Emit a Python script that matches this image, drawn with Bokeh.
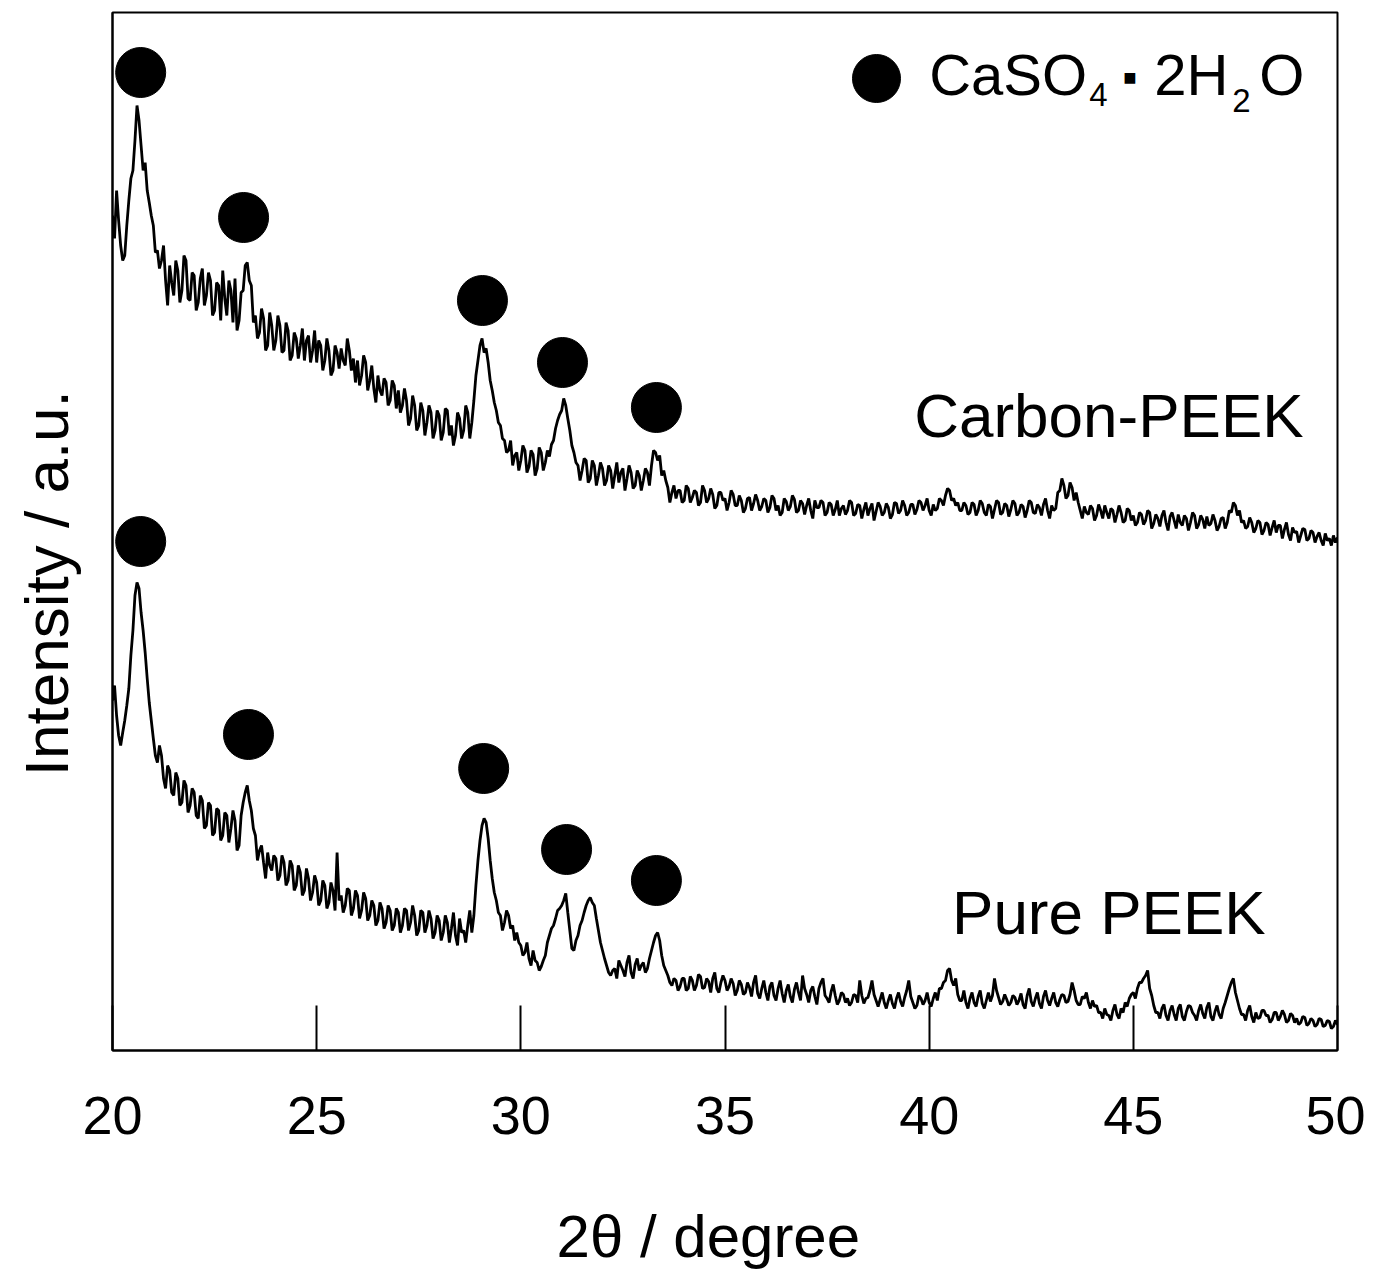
from bokeh.plotting import figure
from bokeh.models import Range1d, FixedTicker
from bokeh.core.properties import value
from bokeh.embed import file_html
from bokeh.resources import INLINE

# 2theta grid, 0.05 degree steps from 20.00 to 50.00
two_theta = [round(20 + 0.05 * i, 2) for i in range(601)]

carbon_peek = [
    835, 812, 860, 830, 805, 790, 795, 825, 850, 872, 880, 910, 945, 930, 905, 880, 888, 860, 848, 835,
    825, 798, 800, 782, 790, 805, 770, 745, 785, 768, 755, 790, 780, 748, 760, 795, 790, 752, 750, 778,
    775, 740, 748, 772, 782, 745, 755, 778, 770, 735, 740, 768, 765, 730, 780, 752, 735, 770, 760, 728,
    772, 720, 730, 758, 760, 785, 788, 770, 765, 728, 735, 712, 718, 742, 732, 700, 705, 738, 725, 700,
    710, 735, 725, 698, 700, 728, 720, 690, 695, 718, 712, 692, 705, 722, 690, 710, 715, 688, 700, 720,
    688, 710, 705, 680, 690, 712, 700, 675, 680, 705, 698, 682, 702, 690, 685, 712, 700, 680, 692, 668,
    690, 665, 675, 695, 688, 660, 670, 685, 662, 648, 675, 660, 655, 672, 668, 645, 650, 670, 665, 642,
    660, 638, 645, 662, 650, 625, 632, 655, 645, 620, 625, 648, 640, 615, 628, 645, 638, 612, 620, 640,
    635, 610, 618, 642, 640, 615, 625, 605, 615, 638, 632, 612, 620, 645, 638, 612, 628, 650, 675, 690,
    705, 712, 698, 702, 688, 670, 660, 648, 640, 628, 625, 612, 610, 598, 600, 610, 585, 595, 598, 580,
    590, 605, 600, 578, 584, 600, 596, 575, 582, 603, 598, 580, 588, 600, 594, 606, 610, 622, 630, 636,
    640, 652, 645, 632, 620, 605, 598, 588, 585, 570, 580, 592, 590, 568, 572, 590, 585, 565, 575, 588,
    582, 565, 570, 585, 580, 562, 575, 588, 568, 578, 582, 560, 572, 585, 578, 562, 565, 580, 575, 560,
    570, 582, 578, 565, 585, 600, 598, 590, 595, 575, 580, 570, 563, 548, 558, 565, 552, 560, 560, 548,
    550, 565, 562, 548, 553, 560, 558, 545, 548, 565, 560, 548, 552, 562, 556, 542, 545, 558, 558, 550,
    552, 540, 548, 560, 556, 545, 545, 555, 550, 538, 542, 552, 553, 540, 547, 556, 550, 540, 544, 552,
    550, 538, 543, 555, 552, 540, 545, 535, 538, 552, 549, 540, 544, 555, 551, 538, 540, 550, 547, 536,
    545, 552, 540, 532, 550, 543, 543, 550, 548, 535, 538, 548, 546, 535, 541, 550, 535, 542, 545, 536,
    540, 550, 548, 535, 537, 546, 545, 532, 541, 548, 535, 542, 547, 530, 539, 548, 544, 535, 538, 547,
    543, 532, 536, 548, 547, 537, 540, 550, 545, 535, 538, 546, 546, 536, 541, 550, 548, 540, 545, 552,
    540, 535, 546, 540, 542, 552, 550, 545, 555, 562, 560, 550, 552, 545, 548, 540, 540, 548, 545, 536,
    538, 548, 546, 535, 540, 550, 547, 538, 535, 546, 544, 532, 541, 550, 548, 536, 538, 547, 545, 534,
    541, 550, 547, 535, 538, 546, 544, 533, 540, 550, 548, 538, 537, 546, 543, 535, 546, 552, 540, 532,
    545, 540, 542, 558, 560, 572, 565, 552, 555, 568, 563, 550, 558, 548, 540, 532, 544, 538, 536, 545,
    542, 530, 535, 546, 540, 532, 545, 538, 532, 542, 540, 528, 536, 545, 538, 528, 530, 542, 540, 530,
    535, 525, 528, 538, 536, 526, 530, 540, 538, 522, 527, 536, 532, 524, 535, 540, 528, 520, 534, 538,
    530, 522, 536, 528, 525, 535, 532, 520, 528, 538, 535, 522, 526, 535, 531, 522, 534, 525, 527, 536,
    530, 520, 524, 532, 533, 522, 528, 540, 538, 548, 545, 535, 540, 528, 530, 522, 524, 533, 528, 518,
    522, 530, 528, 516, 520, 528, 526, 515, 523, 530, 518, 525, 525, 512, 521, 528, 516, 510, 523, 518,
    519, 508, 515, 522, 521, 510, 512, 520, 518, 508, 514, 518, 510, 505, 517, 510, 512, 505, 515, 508,
    513,
]

pure_peek = [
    350, 365, 335, 315, 305, 318, 330, 345, 362, 395, 420, 455, 468, 462, 438, 420, 398, 372, 348, 330,
    312, 295, 288, 305, 295, 272, 262, 285, 280, 258, 255, 278, 272, 245, 248, 270, 265, 238, 245, 262,
    258, 235, 232, 255, 250, 222, 225, 248, 245, 215, 218, 242, 240, 210, 215, 238, 235, 208, 222, 240,
    230, 200, 205, 235, 248, 258, 265, 250, 240, 222, 215, 190, 200, 205, 188, 172, 198, 185, 180, 195,
    192, 170, 175, 195, 188, 165, 170, 190, 185, 160, 165, 185, 178, 155, 160, 182, 172, 150, 158, 175,
    168, 145, 150, 170, 165, 142, 148, 168, 160, 140, 198, 150, 155, 138, 145, 162, 160, 135, 142, 160,
    155, 132, 140, 158, 152, 130, 135, 150, 145, 125, 130, 148, 142, 122, 128, 145, 140, 120, 125, 142,
    138, 118, 125, 142, 140, 120, 128, 145, 135, 115, 120, 140, 138, 118, 125, 140, 132, 112, 118, 135,
    130, 110, 118, 135, 128, 108, 122, 138, 115, 105, 132, 118, 120, 108, 125, 140, 118, 135, 165, 190,
    210, 225, 232, 228, 212, 190, 172, 158, 150, 138, 135, 120, 128, 140, 135, 122, 125, 110, 118, 108,
    105, 95, 98, 108, 92, 85, 100, 90, 88, 80, 84, 90, 95, 108, 115, 122, 125, 132, 140, 142,
    145, 150, 157, 138, 120, 102, 100, 110, 115, 125, 130, 138, 145, 150, 153, 148, 145, 132, 120, 108,
    100, 92, 85, 78, 75, 80, 82, 72, 90, 85, 80, 74, 88, 95, 78, 72, 86, 92, 80, 85,
    88, 78, 82, 92, 100, 108, 115, 118, 110, 95, 85, 80, 75, 68, 65, 72, 70, 60, 64, 72,
    72, 60, 62, 74, 70, 60, 65, 76, 74, 62, 63, 72, 69, 58, 72, 78, 62, 58, 68, 75,
    70, 60, 64, 72, 67, 55, 60, 70, 66, 56, 58, 68, 63, 54, 68, 75, 57, 52, 62, 70,
    58, 50, 64, 68, 55, 50, 62, 70, 57, 48, 60, 66, 54, 48, 61, 68, 58, 50, 75, 62,
    56, 48, 60, 64, 54, 46, 62, 68, 72, 55, 52, 48, 59, 66, 55, 46, 50, 58, 56, 48,
    52, 45, 48, 56, 55, 48, 70, 55, 47, 52, 53, 60, 70, 56, 50, 44, 51, 58, 48, 42,
    50, 56, 47, 42, 52, 58, 49, 44, 53, 60, 70, 54, 48, 42, 45, 55, 52, 46, 50, 58,
    48, 44, 52, 58, 50, 62, 62, 68, 70, 80, 82, 70, 65, 72, 56, 50, 50, 60, 48, 42,
    52, 58, 48, 44, 54, 60, 47, 42, 50, 58, 49, 55, 72, 60, 53, 46, 49, 56, 51, 45,
    48, 55, 53, 46, 50, 57, 46, 42, 55, 62, 49, 44, 52, 58, 47, 42, 54, 60, 50, 45,
    52, 58, 48, 44, 51, 56, 55, 48, 49, 56, 68, 60, 50, 46, 46, 54, 52, 58, 48, 42,
    50, 44, 45, 38, 38, 32, 42, 36, 35, 30, 40, 46, 36, 32, 42, 38, 48, 44, 52, 56,
    58, 52, 62, 68, 68, 72, 75, 80, 62, 55, 45, 38, 38, 32, 42, 46, 35, 30, 40, 45,
    36, 30, 42, 46, 34, 30, 39, 45, 44, 38, 35, 30, 40, 46, 37, 32, 43, 48, 34, 30,
    39, 45, 36, 32, 42, 48, 55, 62, 68, 72, 58, 50, 42, 36, 36, 30, 40, 45, 34, 28,
    38, 32, 33, 40, 40, 35, 35, 28, 31, 38, 38, 30, 34, 40, 36, 28, 30, 37, 35, 28,
    32, 26, 28, 34, 33, 25, 27, 32, 30, 24, 26, 32, 31, 24, 25, 30, 29, 22, 24, 30,
    26,
]

# CaSO4.2H2O peak markers
carbon_marker_x = [20.69, 23.21, 29.06, 31.02, 33.32]
carbon_marker_y = [978, 833, 750, 688, 643]
pure_marker_x = [20.69, 23.33, 29.09, 31.12, 33.32]
pure_marker_y = [509, 316, 282, 201, 170]
legend_marker_x = [38.71]
legend_marker_y = [972]

x_ticks = [20, 25, 30, 35, 40, 45, 50]

FONT = "Liberation Sans"
NB = "\u00a0"

p = figure(width=1365, height=1274, output_backend="svg", toolbar_location=None,
           x_range=Range1d(20, 50), y_range=Range1d(0, 1038),
           min_border_left=112, min_border_right=28, min_border_top=12, min_border_bottom=224)
p.grid.visible = False
p.outline_line_color = "black"
p.outline_line_width = 2
p.background_fill_color = "white"
p.border_fill_color = "white"

p.line(two_theta, carbon_peek, line_color="black", line_width=2.8)
p.line(two_theta, pure_peek, line_color="black", line_width=2.8)

p.scatter(carbon_marker_x, carbon_marker_y, size=50, color="black")
p.scatter(pure_marker_x, pure_marker_y, size=50, color="black")
p.scatter(legend_marker_x, legend_marker_y, size=48, color="black")

def txt(x, y, s, size, align="left", xoff=0):
    p.text(x=[x], y=[y], text=[s], text_font=value(FONT), text_font_size=size,
           text_color="black", text_align=align, text_baseline="alphabetic", x_offset=xoff)

# legend formula CaSO4·2H2O built from pieces (subscripts lowered)
txt(40.0, 976, "CaSO", "58px", xoff=0)
txt(40.0, 956, "4", "33px", xoff=160)
txt(40.0, 973, "■", "22px", xoff=194)
txt(40.0, 976, "2H", "58px", xoff=225)
txt(40.0, 950, "2", "33px", xoff=303)
txt(40.0, 976, "O", "58px", xoff=330)

txt(49.17, 635, "Carbon-PEEK", "62px", align="right")
txt(48.24, 138, "Pure PEEK", "62px", align="right")

xa = p.xaxis[0]
xa.ticker = FixedTicker(ticks=x_ticks)
xa.major_tick_in = 45
xa.major_tick_out = 0
xa.minor_tick_line_color = None
xa.major_tick_line_width = 2
xa.axis_line_width = 2
xa.major_label_text_font = FONT
xa.major_label_text_font_size = "54px"
xa.major_label_text_color = "black"
xa.major_label_standoff = 46
xa.axis_label = "2θ / degree" + NB * 2
xa.axis_label_text_font = FONT
xa.axis_label_text_font_size = "60px"
xa.axis_label_text_font_style = "normal"
xa.axis_label_text_color = "black"
xa.axis_label_standoff = 66

ya = p.yaxis[0]
ya.ticker = FixedTicker(ticks=[])
ya.major_tick_line_color = None
ya.minor_tick_line_color = None
ya.major_label_text_color = None
ya.axis_line_width = 2
ya.axis_label = "Intensity / a.u." + NB * 6
ya.axis_label_text_font = FONT
ya.axis_label_text_font_size = "62px"
ya.axis_label_text_font_style = "normal"
ya.axis_label_text_color = "black"
ya.axis_label_standoff = 32

open("out.html", "w").write(file_html(p, INLINE))
